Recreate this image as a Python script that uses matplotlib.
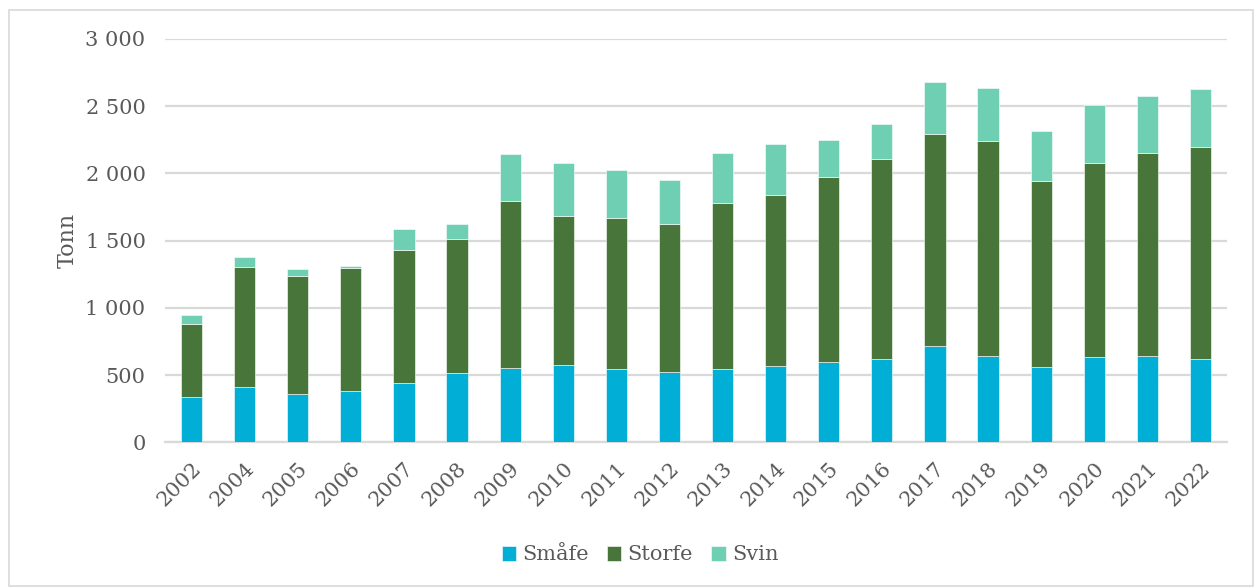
import matplotlib
matplotlib.use("Agg")
import matplotlib.pyplot as plt
from matplotlib.ticker import FuncFormatter, MultipleLocator
from matplotlib.patches import Rectangle
import numpy as np

years = ["2002", "2004", "2005", "2006", "2007", "2008", "2009", "2010", "2011", "2012",
         "2013", "2014", "2015", "2016", "2017", "2018", "2019", "2020", "2021", "2022"]
smafe = [335, 411, 357, 384, 443, 513, 551, 573, 543, 525,
         545, 570, 600, 623, 714, 642, 562, 632, 644, 622]
storfe = [545, 893, 883, 915, 990, 1000, 1244, 1111, 1124, 1101,
          1235, 1272, 1376, 1485, 1582, 1602, 1384, 1448, 1509, 1575]
svin = [65, 75, 47, 13, 154, 113, 350, 392, 357, 326,
        372, 377, 271, 261, 385, 394, 368, 429, 423, 434]

c_smafe = "#00AED6"
c_storfe = "#48763A"
c_svin = "#6ECFB2"
txt = "#595959"
grid = "#D9D9D9"

plt.rcParams['font.family'] = ['DejaVu Serif']

fig = plt.figure(figsize=(12.55, 5.87), dpi=100)
ax = fig.add_axes([165/1255, 1 - 442.3/587, (1227 - 165)/1255, (442.3 - 39)/587])

x = np.arange(len(years))
w = 0.4
s1 = np.array(smafe)
s2 = np.array(storfe)
s3 = np.array(svin)
ax.bar(x, s1, w, color=c_smafe, label="Småfe", edgecolor="white", linewidth=0.4, zorder=3)
ax.bar(x, s2, w, bottom=s1, color=c_storfe, label="Storfe", edgecolor="white", linewidth=0.4, zorder=3)
ax.bar(x, s3, w, bottom=s1 + s2, color=c_svin, label="Svin", edgecolor="white", linewidth=0.4, zorder=3)

ax.set_xlim(-0.5, len(years) - 0.5)
ax.set_ylim(0, 3000)
ax.yaxis.set_major_locator(MultipleLocator(500))
ax.yaxis.set_major_formatter(FuncFormatter(lambda v, p: "{:,}".format(int(v)).replace(",", " ")))
ax.grid(axis="y", color=grid, linewidth=1.6, zorder=0)
for s in ["top", "right", "left"]:
    ax.spines[s].set_visible(False)
ax.spines["bottom"].set_color(grid)
ax.spines["bottom"].set_linewidth(1.6)

ax.set_xticks(x)
ax.set_xticklabels(years, rotation=45, ha="right", rotation_mode="anchor")
ax.tick_params(axis="x", length=0, pad=12, labelsize=15, labelcolor=txt)
ax.tick_params(axis="y", length=0, pad=14, labelsize=15, labelcolor=txt)
ax.set_ylabel("Tonn", fontsize=16, color=txt)
# right edge of the rotated label sits at this x
ax.yaxis.set_label_coords(-0.081, 0.5)

leg = fig.legend(loc="center", bbox_to_anchor=(640/1255, 1 - 555/587), ncol=3, frameon=False,
                 fontsize=15, handlelength=0.7, handleheight=0.7, handletextpad=0.3,
                 columnspacing=0.85, labelcolor=txt)

fig.patches.append(Rectangle((9/1255, 1/587), 1244/1255, 576/587, transform=fig.transFigure,
                             fill=False, edgecolor=grid, linewidth=1.2))

fig.savefig("out.png", dpi=100)
